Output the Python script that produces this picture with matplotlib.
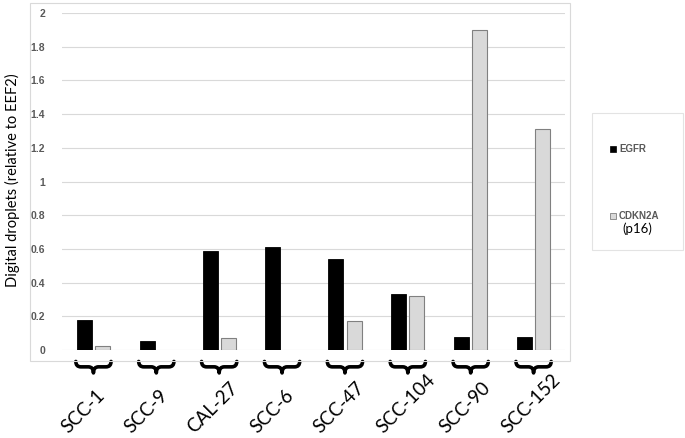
import matplotlib
matplotlib.use("Agg")
from matplotlib import pyplot as plt
from matplotlib.patches import Rectangle, PathPatch
from matplotlib.path import Path
import matplotlib.transforms as mtransforms
import numpy as np

plt.rcParams['font.family'] = ['Lato', 'DejaVu Sans']
BOLD = ['Liberation Sans', 'DejaVu Sans']

# data
cell_lines = ["SCC-1", "SCC-9", "CAL-27", "SCC-6", "SCC-47", "SCC-104", "SCC-90", "SCC-152"]
egfr = [0.18, 0.055, 0.585, 0.61, 0.54, 0.33, 0.08, 0.075]
cdkn2a = [0.025, 0.0, 0.07, 0.0, 0.175, 0.32, 1.9, 1.31]
y_ticks = [0, 0.2, 0.4, 0.6, 0.8, 1, 1.2, 1.4, 1.6, 1.8, 2]

W, H = 685, 438
fig = plt.figure(figsize=(W / 100, H / 100), dpi=100)


def px(x0, y0, x1, y1):
    # pixel box (top-left origin) -> figure fraction rect
    return [x0 / W, 1 - y1 / H, (x1 - x0) / W, (y1 - y0) / H]


# outer chart-area frame
fig.patches.append(Rectangle((30 / W, 1 - 361 / H), 540 / W, 358 / H,
                             transform=fig.transFigure, fill=False,
                             edgecolor="#d9d9d9", lw=0.8))

ax = fig.add_axes(px(62, 13, 565, 350))
x = np.arange(len(cell_lines))
bw = 0.24
ax.bar(x - 0.145, egfr, bw, color="black", edgecolor="black", lw=0.6, zorder=3)
ax.bar(x + 0.145, cdkn2a, bw, color="#d9d9d9", edgecolor="#808080",
       lw=[0.8 if v > 0 else 0 for v in cdkn2a], zorder=3)

ax.set_xlim(-0.5, len(cell_lines) - 0.5)
ax.set_ylim(0, 2)
ax.set_yticks(y_ticks)
ax.set_yticklabels([f"{t:g}" for t in y_ticks], fontsize=7.5, fontweight="bold",
                   color="#595959", family=BOLD)
ax.tick_params(axis="y", length=0, pad=12)
ax.set_xticks([])
ax.grid(axis="y", color="#d9d9d9", lw=0.8, zorder=0)
for s in ax.spines.values():
    s.set_visible(False)

fig.text(12 / W, 1 - 180 / H, "Digital droplets (relative to EEF2)", rotation=90,
         ha="center", va="center", fontsize=10.5)

# braces and rotated category labels under each group
trans = mtransforms.blended_transform_factory(ax.transData, ax.transAxes)
hw = 0.28
ytop, ymid, ybot = -0.034, -0.050, -0.068
for i, name in enumerate(cell_lines):
    c = i
    verts = [(c - hw, ytop), (c - hw, ymid), (c - hw + 0.08, ymid),
             (c - 0.08, ymid), (c, ymid), (c, ybot),
             (c, ymid), (c + 0.08, ymid),
             (c + hw - 0.08, ymid), (c + hw, ymid), (c + hw, ytop)]
    codes = [Path.MOVETO, Path.CURVE3, Path.CURVE3,
             Path.LINETO, Path.CURVE3, Path.CURVE3,
             Path.CURVE3, Path.CURVE3,
             Path.LINETO, Path.CURVE3, Path.CURVE3]
    ax.add_patch(PathPatch(Path(verts, codes), transform=trans, fill=False,
                           lw=2.6, edgecolor="black", clip_on=False,
                           capstyle="round", joinstyle="round"))
    ax.text(c - 0.36, -0.255, name, transform=trans, rotation=45,
            rotation_mode="anchor", ha="left", va="bottom", fontsize=13.5)

# legend box
fig.patches.append(Rectangle((592 / W, 1 - 250 / H), 91 / W, 137 / H,
                             transform=fig.transFigure, fill=False,
                             edgecolor="#e3e3e3", lw=0.8))
fig.patches.append(Rectangle((610 / W, 1 - 152 / H), 6 / W, 6 / H,
                             transform=fig.transFigure, facecolor="black",
                             edgecolor="black", lw=0.5))
fig.text(619 / W, 1 - 149 / H, "EGFR", fontsize=7, fontweight="bold",
         color="#595959", va="center", family=BOLD)
fig.patches.append(Rectangle((610 / W, 1 - 219 / H), 6 / W, 6 / H,
                             transform=fig.transFigure, facecolor="#d9d9d9",
                             edgecolor="#808080", lw=0.6))
fig.text(619 / W, 1 - 216 / H, "CDKN2A", fontsize=7, fontweight="bold",
         color="#595959", va="center", family=BOLD)
fig.text(637 / W, 1 - 229 / H, "(p16)", fontsize=9.5, ha="center", va="center")

fig.savefig("out.png", dpi=100)
